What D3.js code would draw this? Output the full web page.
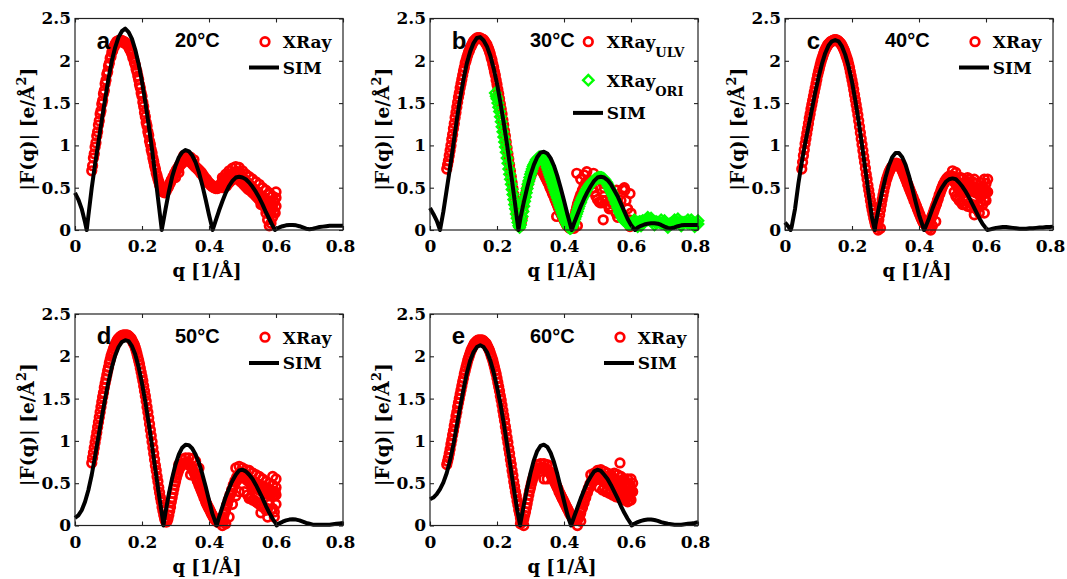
<!DOCTYPE html>
<html>
<head>
<meta charset="utf-8">
<script src="https://cdn.jsdelivr.net/npm/d3@7"></script>
<style>
  body { margin: 0; background: #fff; }
  svg { display: block; }
</style>
</head>
<body>
<svg id="fig" width="1067" height="579"></svg>
<script>
// ---- axis ticks ----
const qTicks = [0, 0.2, 0.4, 0.6, 0.8];
const fTicks = [0, 0.5, 1, 1.5, 2, 2.5];

// ---- simulated form factors |F(q)|, [q, F] ----
const sim20 = [[0,.44],[.01,.36],[.02,.25],[.03,.09],[.035,0],[.04,.17],[.05,.5],[.06,.78],[.07,1.04],[.08,1.30],[.09,1.55],[.10,1.79],[.11,2.0],[.12,2.16],[.13,2.28],[.14,2.35],[.15,2.38],[.16,2.34],[.17,2.26],[.18,2.13],[.19,1.96],[.20,1.75],[.21,1.51],[.22,1.24],[.23,.95],[.24,.63],[.25,.30],[.259,0],[.27,.24],[.28,.45],[.29,.63],[.30,.76],[.31,.86],[.32,.92],[.33,.945],[.34,.93],[.35,.88],[.36,.80],[.37,.68],[.38,.53],[.39,.36],[.40,.18],[.411,0],[.42,.11],[.43,.23],[.44,.34],[.45,.44],[.46,.52],[.47,.58],[.48,.62],[.49,.63],[.50,.62],[.51,.60],[.52,.56],[.53,.51],[.54,.45],[.55,.38],[.56,.30],[.57,.21],[.58,.13],[.59,.05],[.597,0],[.60,.01],[.61,.03],[.62,.045],[.63,.055],[.64,.06],[.65,.06],[.66,.055],[.67,.045],[.68,.03],[.69,.015],[.70,.01],[.71,.015],[.72,.025],[.73,.035],[.74,.04],[.75,.045],[.76,.05],[.77,.05],[.78,.05],[.79,.05],[.80,.05]];

const sim30 = [[0,.26],[.01,.19],[.02,.11],[.03,0],[.04,.22],[.05,.48],[.06,.74],[.07,1.02],[.08,1.30],[.09,1.56],[.10,1.78],[.11,1.97],[.12,2.11],[.13,2.21],[.14,2.27],[.15,2.28],[.16,2.24],[.17,2.17],[.18,2.06],[.19,1.91],[.20,1.73],[.21,1.51],[.22,1.27],[.23,1.01],[.24,.72],[.25,.43],[.26,.12],[.264,0],[.27,.14],[.28,.33],[.29,.50],[.30,.65],[.31,.77],[.32,.86],[.33,.915],[.34,.925],[.35,.905],[.36,.85],[.37,.76],[.38,.64],[.39,.50],[.40,.35],[.41,.19],[.423,0],[.43,.08],[.44,.18],[.45,.28],[.46,.37],[.47,.45],[.48,.52],[.49,.58],[.50,.62],[.51,.63],[.52,.62],[.53,.59],[.54,.54],[.55,.47],[.56,.40],[.57,.31],[.58,.22],[.59,.13],[.60,.06],[.612,0],[.62,.03],[.63,.05],[.64,.065],[.65,.075],[.66,.08],[.67,.08],[.68,.075],[.69,.06],[.70,.04],[.71,.025],[.72,.02],[.73,.03],[.74,.045],[.75,.055],[.76,.06],[.77,.06],[.78,.06],[.79,.06],[.80,.06]];

const sim40 = [[0,.09],[.01,.04],[.017,0],[.02,.04],[.03,.25],[.04,.55],[.05,.80],[.06,1.02],[.07,1.22],[.08,1.42],[.09,1.62],[.10,1.80],[.11,1.96],[.12,2.09],[.13,2.18],[.14,2.23],[.15,2.245],[.16,2.23],[.17,2.17],[.18,2.07],[.19,1.93],[.20,1.75],[.21,1.53],[.22,1.28],[.23,1.00],[.24,.71],[.25,.42],[.26,.14],[.268,0],[.27,.06],[.28,.26],[.29,.45],[.30,.62],[.31,.76],[.32,.86],[.33,.91],[.34,.91],[.35,.86],[.36,.77],[.37,.64],[.38,.49],[.39,.33],[.40,.18],[.41,.06],[.415,0],[.42,.04],[.43,.14],[.44,.25],[.45,.35],[.46,.44],[.47,.51],[.48,.57],[.49,.60],[.50,.61],[.51,.60],[.52,.56],[.53,.51],[.54,.45],[.55,.38],[.56,.30],[.57,.22],[.58,.14],[.59,.07],[.60,.02],[.604,0],[.61,.005],[.62,.015],[.63,.025],[.64,.03],[.65,.035],[.66,.035],[.67,.03],[.68,.025],[.69,.02],[.70,.015],[.71,.015],[.72,.015],[.73,.02],[.74,.02],[.75,.025],[.76,.03],[.77,.03],[.78,.035],[.79,.035],[.80,.04]];

const sim50 = [[0,.09],[.01,.12],[.02,.18],[.03,.28],[.04,.42],[.05,.60],[.06,.82],[.07,1.05],[.08,1.28],[.09,1.50],[.10,1.70],[.11,1.87],[.12,2.01],[.13,2.11],[.14,2.17],[.15,2.19],[.16,2.18],[.17,2.12],[.18,2.02],[.19,1.87],[.20,1.68],[.21,1.46],[.22,1.21],[.23,.94],[.24,.66],[.25,.38],[.26,.12],[.264,0],[.27,.15],[.28,.37],[.29,.56],[.30,.72],[.31,.84],[.32,.92],[.33,.955],[.34,.95],[.35,.91],[.36,.84],[.37,.74],[.38,.61],[.39,.46],[.40,.30],[.41,.14],[.423,0],[.43,.10],[.44,.22],[.45,.34],[.46,.44],[.47,.53],[.48,.60],[.49,.65],[.50,.66],[.51,.64],[.52,.60],[.53,.55],[.54,.48],[.55,.40],[.56,.32],[.57,.23],[.58,.15],[.59,.08],[.60,.02],[.602,0],[.61,.025],[.62,.045],[.63,.06],[.64,.07],[.65,.075],[.66,.07],[.67,.06],[.68,.045],[.69,.03],[.70,.02],[.71,.01],[.72,.01],[.73,.01],[.74,.01],[.75,.01],[.76,.01],[.77,.015],[.78,.02],[.79,.025],[.80,.03]];

const sim60 = [[0,.31],[.01,.33],[.02,.37],[.03,.43],[.04,.51],[.05,.62],[.06,.77],[.07,.96],[.08,1.18],[.09,1.40],[.10,1.61],[.11,1.80],[.12,1.95],[.13,2.05],[.14,2.11],[.15,2.13],[.16,2.11],[.17,2.05],[.18,1.95],[.19,1.81],[.20,1.64],[.21,1.44],[.22,1.21],[.23,.96],[.24,.70],[.25,.44],[.26,.19],[.269,0],[.27,.03],[.28,.24],[.29,.44],[.30,.62],[.31,.77],[.32,.88],[.33,.94],[.34,.955],[.35,.93],[.36,.86],[.37,.75],[.38,.61],[.39,.45],[.40,.29],[.41,.13],[.421,0],[.43,.10],[.44,.21],[.45,.32],[.46,.42],[.47,.51],[.48,.58],[.49,.64],[.50,.66],[.51,.645],[.52,.60],[.53,.55],[.54,.48],[.55,.40],[.56,.32],[.57,.23],[.58,.15],[.59,.08],[.60,.02],[.602,0],[.61,.02],[.62,.04],[.63,.055],[.64,.065],[.65,.07],[.66,.07],[.67,.065],[.68,.055],[.69,.04],[.70,.03],[.71,.02],[.72,.015],[.73,.01],[.74,.01],[.75,.01],[.76,.015],[.77,.02],[.78,.025],[.79,.03],[.80,.04]];

// ---- measured X-ray form factors, [q, F]; two interleaved scans per temperature ----
const xray20 = [[.050,.70],[.055,.85],[.060,.98],[.065,1.11],[.070,1.24],[.075,1.37],[.080,1.49],[.085,1.61],[.090,1.73],[.095,1.84],[.100,1.94],[.105,2.03],[.110,2.10],[.115,2.16],[.120,2.20],[.125,2.23],[.130,2.24],[.135,2.24],[.140,2.24],[.145,2.23],[.150,2.22],[.155,2.20],[.160,2.17],[.165,2.13],[.170,2.08],[.175,2.02],[.180,1.95],[.185,1.87],[.190,1.78],[.195,1.68],[.200,1.58],[.205,1.46],[.210,1.34],[.215,1.23],[.220,1.12],[.225,1.01],[.230,.91],[.235,.81],[.240,.72],[.245,.64],[.250,.57],[.255,.51],[.260,.47],[.265,.45],[.270,.46],[.275,.49],[.280,.52],[.285,.56],[.290,.60],[.295,.64],[.300,.68],[.305,.71],[.310,.74],[.315,.77],[.320,.79],[.325,.81],[.330,.82],[.335,.82],[.340,.82],[.345,.80],[.350,.78],[.355,.76],[.360,.74],[.365,.72],[.370,.70],[.375,.67],[.380,.65],[.385,.62],[.390,.60],[.395,.57],[.400,.55],[.405,.53],[.410,.51],[.415,.50],[.420,.49],[.425,.49],[.430,.50],[.435,.52],[.440,.55],[.445,.58],[.450,.60],[.455,.62],[.460,.64],[.465,.66],[.470,.67],[.475,.68],[.480,.69],[.485,.69],[.490,.68],[.495,.66],[.500,.63],[.505,.60],[.510,.58],[.515,.56],[.520,.54],[.525,.52],[.530,.50],[.535,.48],[.540,.46],[.545,.44],[.550,.42],[.555,.40],[.560,.38],[.565,.36],[.570,.34],[.575,.33],[.580,.32],[.585,.31],[.590,.30],[.595,.33],[.600,.38],
  [.325,.88],[.335,.88],[.345,.86],[.355,.83],[.31,.68],[.30,.62],[.47,.73],[.48,.75],[.49,.74],[.50,.70],[.46,.70],[.44,.50],[.45,.54],[.565,.28],[.57,.20],[.575,.12],[.58,.05],[.585,.08],[.59,.15],[.595,.22],[.60,.45],[.60,.28],[.59,.40],[.585,.20],[.58,.42],[.555,.30],
  [.51,.66],[.52,.63],[.53,.60],[.54,.57],[.55,.54],[.56,.50],[.57,.47],[.58,.44],[.45,.66],[.44,.62]];
const xray20r = [[.0525,.76],[.0575,.90],[.0625,1.03],[.0675,1.16],[.0725,1.29],[.0775,1.41],[.0825,1.53],[.0875,1.65],[.0925,1.77],[.0975,1.87],[.1025,1.97],[.1075,2.05],[.1125,2.12],[.1175,2.17],[.1225,2.21],[.1275,2.22],[.1325,2.23],[.1375,2.23],[.1425,2.22],[.1475,2.21],[.1525,2.20],[.1575,2.18],[.1625,2.14],[.1675,2.10],[.1725,2.04],[.1775,1.98],[.1825,1.90],[.1875,1.82],[.1925,1.72],[.1975,1.62],[.2025,1.51],[.2075,1.39],[.2125,1.27],[.2175,1.16],[.2225,1.05],[.2275,.95],[.2325,.85],[.2375,.76],[.2425,.67],[.2475,.60],[.2525,.53],[.2575,.48],[.2625,.45],[.2675,.44],[.2725,.46],[.2775,.50],[.2825,.55],[.2875,.59],[.2925,.63],[.2975,.67],[.3025,.71],[.3075,.74],[.3125,.77],[.3175,.80],[.3225,.82],[.3275,.84],[.3325,.85],[.3375,.84],[.3425,.83],[.3475,.81],[.3525,.79],[.3575,.76],[.3625,.74],[.3675,.72],[.3725,.70],[.3775,.68],[.3825,.65],[.3875,.62],[.3925,.60],[.3975,.57],[.4025,.55],[.4075,.53],[.4125,.52],[.4175,.51],[.4225,.51],[.4275,.52],[.4325,.53],[.4375,.56],[.4425,.59],[.4475,.62],[.4525,.52],[.4575,.55],[.4625,.57],[.4675,.59],[.4725,.60],[.4775,.61],[.4825,.61],[.4875,.60],[.4925,.58],[.4975,.56],[.5025,.54],[.5075,.52],[.5125,.50],[.5175,.48],[.5225,.47],[.5275,.45],[.5325,.43],[.5375,.41],[.5425,.39],[.5475,.37],[.5525,.35],[.5575,.33],[.5625,.30],[.5675,.27],[.5725,.25],[.5775,.22],[.5825,.18],[.5875,.25],[.5925,.35],[.5975,.20]];

const xrayUlv30 = [[.050,.72],[.055,.82],[.060,.94],[.065,1.07],[.070,1.20],[.075,1.33],[.080,1.45],[.085,1.57],[.090,1.68],[.095,1.78],[.100,1.88],[.105,1.97],[.110,2.04],[.115,2.10],[.120,2.15],[.125,2.19],[.130,2.23],[.135,2.25],[.140,2.27],[.145,2.27],[.150,2.27],[.155,2.26],[.160,2.25],[.165,2.22],[.170,2.19],[.175,2.14],[.180,2.08],[.185,2.01],[.190,1.92],[.195,1.83],[.200,1.72],[.205,1.61],[.210,1.49],[.215,1.37],[.220,1.24],[.225,1.11],[.230,.97],[.235,.84],[.240,.70],[.245,.56],[.250,.42],[.255,.29],[.260,.16],[.265,.06],[.270,.05],[.275,.14],[.280,.32],[.285,.41],[.290,.50],[.295,.57],[.300,.63],[.305,.68],[.310,.71],[.315,.73],[.320,.74],[.325,.74],[.330,.73],[.335,.70],[.340,.66],[.345,.62],[.350,.58],[.355,.54],[.360,.49],[.365,.44],[.370,.40],[.375,.35],[.380,.30],[.385,.25],[.390,.20],[.395,.16],[.400,.12],[.405,.08],[.410,.05],[.415,.03],[.420,.02],[.425,.05],[.430,.12],[.435,.22],[.440,.30],[.445,.36],[.450,.42],[.455,.47],[.460,.52],[.465,.56],[.470,.58],[.475,.57],[.480,.55],[.485,.50],[.490,.45],[.495,.40],[.500,.36],[.505,.33],[.510,.32],[.515,.35],[.520,.40],[.525,.35],[.530,.30],[.535,.25],[.540,.33],[.545,.40],[.550,.30],[.555,.20],[.560,.15],[.565,.22],[.570,.35],[.575,.48],[.580,.50],[.585,.35],[.590,.25],[.595,.12],[.600,.20],
  [.438,.67],[.468,.69],[.488,.67],[.517,.55],[.557,.47],[.582,.47],[.597,.43],[.537,.27],[.517,.12],[.597,.04],[.408,.08],[.393,.22],[.378,.16],[.43,.02],[.44,.05],[.45,.60],[.46,.65],[.50,.60],[.52,.50],[.54,.45]];
const xrayUlv30r = [[.0525,.77],[.0575,.88],[.0625,1.00],[.0675,1.13],[.0725,1.26],[.0775,1.39],[.0825,1.51],[.0875,1.62],[.0925,1.73],[.0975,1.83],[.1025,1.92],[.1075,2.00],[.1125,2.07],[.1175,2.12],[.1225,2.17],[.1275,2.21],[.1325,2.24],[.1375,2.26],[.1425,2.27],[.1475,2.27],[.1525,2.26],[.1575,2.25],[.1625,2.23],[.1675,2.20],[.1725,2.16],[.1775,2.11],[.1825,2.04],[.1875,1.96],[.1925,1.87],[.1975,1.77],[.2025,1.66],[.2075,1.55],[.2125,1.43],[.2175,1.30],[.2225,1.17],[.2275,1.04],[.2325,.90],[.2375,.77],[.2425,.63],[.2475,.49],[.2525,.35],[.2575,.22],[.2625,.11],[.2675,.04],[.2725,.09],[.2775,.23],[.2825,.37],[.2875,.46],[.2925,.54],[.2975,.60],[.3025,.66],[.3075,.70],[.3125,.72],[.3175,.74],[.3225,.74],[.3275,.74],[.3325,.72],[.3375,.68],[.3425,.64],[.3475,.60],[.3525,.56],[.3575,.51],[.3625,.47],[.3675,.42],[.3725,.37],[.3775,.32],[.3825,.27],[.3875,.22],[.3925,.18],[.3975,.14],[.4025,.10],[.4075,.06],[.4125,.04],[.4175,.02],[.4225,.03],[.4275,.08],[.4325,.17],[.4375,.26],[.4425,.33],[.4475,.39]];

const xrayOri30 = [[.195,1.62],[.200,1.55],[.205,1.45],[.210,1.34],[.215,1.22],[.220,1.10],[.225,.98],[.230,.85],[.235,.72],[.240,.60],[.245,.48],[.250,.36],[.255,.25],[.260,.14],[.265,.05],[.270,.06],[.275,.16],[.280,.28],[.285,.39],[.290,.49],[.295,.58],[.300,.66],[.305,.72],[.310,.77],[.315,.81],[.320,.84],[.325,.86],[.330,.86],[.335,.85],[.340,.83],[.345,.79],[.350,.74],[.355,.68],[.360,.62],[.365,.56],[.370,.50],[.375,.44],[.380,.38],[.385,.32],[.390,.26],[.395,.20],[.400,.15],[.405,.10],[.410,.06],[.415,.03],[.420,.02],[.425,.05],[.430,.10],[.435,.16],[.440,.22],[.445,.28],[.450,.33],[.455,.38],[.460,.42],[.465,.46],[.470,.49],[.475,.52],[.480,.55],[.485,.57],[.490,.59],[.495,.60],[.500,.61],[.505,.62],[.510,.62],[.515,.61],[.520,.60],[.525,.57],[.530,.54],[.535,.50],[.540,.46],[.545,.42],[.550,.37],[.555,.32],[.560,.27],[.565,.22],[.570,.18],[.575,.14],[.580,.11],[.585,.09],[.590,.08],[.595,.07],[.600,.07],[.605,.08],[.610,.08],[.615,.09],[.620,.09],[.625,.10],[.630,.10],[.635,.11],[.640,.11],[.645,.12],[.650,.12],[.655,.12],[.660,.11],[.665,.11],[.670,.10],[.675,.10],[.680,.09],[.685,.09],[.690,.08],[.695,.08],[.700,.07],[.705,.07],[.710,.07],[.715,.07],[.720,.08],[.725,.08],[.730,.08],[.735,.08],[.740,.09],[.745,.09],[.750,.09],[.755,.09],[.760,.09],[.765,.09],[.770,.08],[.775,.08],[.780,.08],[.785,.08],[.790,.08],[.795,.08],[.800,.07],
  [.61,.12],[.63,.05],[.65,.15],[.67,.06],[.69,.12],[.71,.03],[.73,.12],[.75,.05],[.77,.12],[.79,.04],[.80,.11],[.62,.04],[.66,.14],[.70,.11],[.74,.13],[.78,.12]];
const xrayOri30r = [[.1975,1.58],[.2025,1.50],[.2075,1.40],[.2125,1.28],[.2175,1.16],[.2225,1.04],[.2275,.92],[.2325,.79],[.2375,.66],[.2425,.54],[.2475,.42],[.2525,.30],[.2575,.19],[.2625,.09],[.2675,.03],[.2725,.11],[.2775,.22],[.2825,.34],[.2875,.44],[.2925,.54],[.2975,.62],[.3025,.69],[.3075,.75],[.3125,.79],[.3175,.83],[.3225,.85],[.3275,.86],[.3325,.86],[.3375,.84],[.3425,.81],[.3475,.77],[.3525,.71],[.3575,.65],[.3625,.59],[.3675,.53],[.3725,.47],[.3775,.41],[.3825,.35],[.3875,.29],[.3925,.23],[.3975,.17],[.4025,.12],[.4075,.08],[.4125,.04],[.4175,.02],[.4225,.03],[.4275,.07],[.4325,.13],[.4375,.19],[.4425,.25],[.4475,.31],[.4525,.36],[.4575,.40],[.4625,.44],[.4675,.48],[.4725,.51],[.4775,.54],[.4825,.56],[.4875,.58],[.4925,.60],[.4975,.61],[.5025,.62],[.5075,.62],[.5125,.62],[.5175,.61],[.5225,.59],[.5275,.56],[.5325,.52],[.5375,.48],[.5425,.44],[.5475,.40],[.5525,.35],[.5575,.30],[.5625,.25],[.5675,.20],[.5725,.16],[.5775,.12],[.5825,.10],[.5875,.08],[.5925,.07],[.5975,.07]];

const xray40 = [[.050,.72],[.055,.88],[.060,1.02],[.065,1.14],[.070,1.26],[.075,1.37],[.080,1.48],[.085,1.58],[.090,1.68],[.095,1.78],[.100,1.87],[.105,1.95],[.110,2.02],[.115,2.08],[.120,2.13],[.125,2.17],[.130,2.20],[.135,2.22],[.140,2.23],[.145,2.24],[.150,2.24],[.155,2.24],[.160,2.23],[.165,2.21],[.170,2.18],[.175,2.14],[.180,2.09],[.185,2.03],[.190,1.96],[.195,1.87],[.200,1.77],[.205,1.66],[.210,1.54],[.215,1.42],[.220,1.29],[.225,1.15],[.230,1.01],[.235,.87],[.240,.73],[.245,.60],[.250,.47],[.255,.35],[.260,.24],[.265,.14],[.270,.06],[.275,.04],[.280,.12],[.285,.24],[.290,.36],[.295,.46],[.300,.55],[.305,.62],[.310,.68],[.315,.72],[.320,.75],[.325,.77],[.330,.78],[.335,.78],[.340,.77],[.345,.74],[.350,.70],[.355,.65],[.360,.60],[.365,.55],[.370,.50],[.375,.45],[.380,.40],[.385,.35],[.390,.30],[.395,.25],[.400,.20],[.405,.15],[.410,.11],[.415,.08],[.420,.06],[.425,.06],[.430,.08],[.435,.12],[.440,.17],[.445,.23],[.450,.29],[.455,.35],[.460,.41],[.465,.46],[.470,.51],[.475,.55],[.480,.58],[.485,.60],[.490,.61],[.495,.61],[.500,.60],[.505,.57],[.510,.54],[.515,.50],[.520,.47],[.525,.45],[.530,.44],[.535,.44],[.540,.45],[.545,.46],[.550,.47],[.555,.47],[.560,.46],[.565,.45],[.570,.44],[.575,.43],[.580,.42],[.585,.42],[.590,.42],[.595,.43],[.600,.44],
  [.50,.70],[.51,.68],[.52,.62],[.53,.60],[.54,.58],[.55,.60],[.56,.57],[.57,.55],[.58,.50],[.59,.50],[.60,.55],[.60,.35],[.59,.30],[.58,.28],[.57,.25],[.56,.30],[.55,.32],[.53,.30],[.52,.35],[.51,.40],[.595,.20],[.58,.20],[.565,.18],[.605,.45],[.605,.60],[.43,.02],[.44,.05],[.45,.10],[.435,.0],[.278,.0],[.285,.02],
  [.505,.45],[.515,.38],[.525,.33],[.535,.30],[.545,.28],[.555,.27],[.565,.28],[.575,.30],[.585,.33],[.595,.36],[.525,.62],[.545,.62],[.565,.60],[.585,.56],[.595,.60]];
const xray40r = [[.0525,.80],[.0575,.95],[.0625,1.08],[.0675,1.20],[.0725,1.32],[.0775,1.43],[.0825,1.53],[.0875,1.63],[.0925,1.73],[.0975,1.83],[.1025,1.91],[.1075,1.99],[.1125,2.05],[.1175,2.11],[.1225,2.15],[.1275,2.19],[.1325,2.21],[.1375,2.23],[.1425,2.24],[.1475,2.25],[.1525,2.25],[.1575,2.24],[.1625,2.22],[.1675,2.20],[.1725,2.16],[.1775,2.12],[.1825,2.06],[.1875,2.00],[.1925,1.92],[.1975,1.82],[.2025,1.72],[.2075,1.60],[.2125,1.48],[.2175,1.36],[.2225,1.22],[.2275,1.08],[.2325,.94],[.2375,.80],[.2425,.66],[.2475,.53],[.2525,.41],[.2575,.29],[.2625,.19],[.2675,.10],[.2725,.04],[.2775,.07],[.2825,.18],[.2875,.30],[.2925,.41],[.2975,.51],[.3025,.59],[.3075,.65],[.3125,.70],[.3175,.74],[.3225,.76],[.3275,.78],[.3325,.79],[.3375,.78],[.3425,.76],[.3475,.72],[.3525,.68],[.3575,.63],[.3625,.58],[.3675,.53],[.3725,.48],[.3775,.43],[.3825,.38],[.3875,.33],[.3925,.28],[.3975,.23],[.4025,.18],[.4075,.13],[.4125,.09],[.4175,.07],[.4225,.05],[.4275,.07],[.4325,.10],[.4375,.15],[.4425,.20],[.4475,.26],[.4525,.31],[.4575,.37],[.4625,.43],[.4675,.49],[.4725,.54],[.4775,.58],[.4825,.61],[.4875,.63],[.4925,.64],[.4975,.64],[.5025,.63],[.5075,.61],[.5125,.58],[.5175,.56],[.5225,.54],[.5275,.52],[.5325,.51],[.5375,.50],[.5425,.50],[.5475,.51],[.5525,.52],[.5575,.52],[.5625,.51],[.5675,.50],[.5725,.48],[.5775,.47],[.5825,.46],[.5875,.46],[.5925,.47],[.5975,.48]];

const xray50 = [[.050,.74],[.055,.86],[.060,.98],[.065,1.10],[.070,1.22],[.075,1.34],[.080,1.46],[.085,1.57],[.090,1.68],[.095,1.78],[.100,1.87],[.105,1.96],[.110,2.03],[.115,2.09],[.120,2.14],[.125,2.18],[.130,2.21],[.135,2.23],[.140,2.24],[.145,2.25],[.150,2.25],[.155,2.25],[.160,2.24],[.165,2.22],[.170,2.19],[.175,2.15],[.180,2.10],[.185,2.03],[.190,1.95],[.195,1.86],[.200,1.76],[.205,1.65],[.210,1.53],[.215,1.40],[.220,1.27],[.225,1.13],[.230,.99],[.235,.85],[.240,.71],[.245,.58],[.250,.45],[.255,.33],[.260,.22],[.265,.12],[.270,.05],[.275,.05],[.280,.12],[.285,.22],[.290,.33],[.295,.43],[.300,.52],[.305,.60],[.310,.66],[.315,.70],[.320,.72],[.325,.73],[.330,.73],[.335,.73],[.340,.72],[.345,.70],[.350,.67],[.355,.63],[.360,.58],[.365,.53],[.370,.48],[.375,.43],[.380,.38],[.385,.33],[.390,.28],[.395,.24],[.400,.20],[.405,.16],[.410,.12],[.415,.09],[.420,.06],[.425,.04],[.430,.04],[.435,.05],[.440,.08],[.445,.13],[.450,.19],[.455,.25],[.460,.31],[.465,.37],[.470,.42],[.475,.47],[.480,.51],[.485,.54],[.490,.56],[.495,.57],[.500,.57],[.505,.56],[.510,.55],[.515,.53],[.520,.51],[.525,.49],[.530,.47],[.535,.45],[.540,.44],[.545,.43],[.550,.42],[.555,.41],[.560,.40],[.565,.39],[.570,.38],[.575,.37],[.580,.36],[.585,.36],[.590,.35],[.595,.35],[.600,.36],
  [.32,.78],[.33,.80],[.34,.80],[.35,.79],[.36,.76],[.31,.72],[.37,.68],[.345,.60],[.48,.68],[.49,.70],[.50,.68],[.51,.66],[.52,.65],[.53,.62],[.54,.60],[.55,.58],[.56,.55],[.57,.52],[.58,.50],[.59,.48],[.60,.45],[.60,.25],[.59,.20],[.58,.25],[.57,.18],[.56,.22],[.55,.25],[.54,.28],[.53,.30],[.52,.32],[.60,.55],[.59,.58],[.595,.10],[.575,.10],[.555,.15],[.44,.0],[.45,.02],[.46,.10],[.445,.05],
  [.505,.40],[.515,.36],[.525,.33],[.535,.30],[.545,.27],[.555,.24],[.565,.22],[.575,.20],[.585,.18],[.595,.16],[.47,.25],[.48,.35],[.49,.40]];
const xray50r = [[.0525,.80],[.0575,.92],[.0625,1.04],[.0675,1.16],[.0725,1.28],[.0775,1.40],[.0825,1.52],[.0875,1.63],[.0925,1.73],[.0975,1.83],[.1025,1.92],[.1075,2.00],[.1125,2.06],[.1175,2.12],[.1225,2.16],[.1275,2.20],[.1325,2.22],[.1375,2.24],[.1425,2.25],[.1475,2.25],[.1525,2.25],[.1575,2.25],[.1625,2.23],[.1675,2.21],[.1725,2.17],[.1775,2.13],[.1825,2.07],[.1875,1.99],[.1925,1.91],[.1975,1.81],[.2025,1.71],[.2075,1.59],[.2125,1.47],[.2175,1.34],[.2225,1.20],[.2275,1.06],[.2325,.92],[.2375,.78],[.2425,.65],[.2475,.52],[.2525,.39],[.2575,.28],[.2625,.17],[.2675,.08],[.2725,.04],[.2775,.08],[.2825,.17],[.2875,.28],[.2925,.38],[.2975,.48],[.3025,.56],[.3075,.63],[.3125,.68],[.3175,.71],[.3225,.73],[.3275,.74],[.3325,.74],[.3375,.73],[.3425,.71],[.3475,.69],[.3525,.65],[.3575,.61],[.3625,.56],[.3675,.51],[.3725,.46],[.3775,.41],[.3825,.36],[.3875,.31],[.3925,.26],[.3975,.22],[.4025,.18],[.4075,.14],[.4125,.10],[.4175,.07],[.4225,.05],[.4275,.04],[.4325,.04],[.4375,.06],[.4425,.10],[.4475,.16],[.4525,.24],[.4575,.30],[.4625,.36],[.4675,.42],[.4725,.48],[.4775,.53],[.4825,.57],[.4875,.60],[.4925,.62],[.4975,.62],[.5025,.61],[.5075,.60],[.5125,.58],[.5175,.56],[.5225,.54],[.5275,.53],[.5325,.52],[.5375,.51],[.5425,.50],[.5475,.49],[.5525,.48],[.5575,.47],[.5625,.46],[.5675,.45],[.5725,.44],[.5775,.43],[.5825,.42],[.5875,.41],[.5925,.40],[.5975,.40]];

const xray60 = [[.050,.72],[.055,.80],[.060,.90],[.065,1.01],[.070,1.12],[.075,1.23],[.080,1.34],[.085,1.45],[.090,1.55],[.095,1.65],[.100,1.74],[.105,1.83],[.110,1.91],[.115,1.98],[.120,2.04],[.125,2.09],[.130,2.13],[.135,2.16],[.140,2.18],[.145,2.19],[.150,2.19],[.155,2.19],[.160,2.18],[.165,2.16],[.170,2.13],[.175,2.09],[.180,2.04],[.185,1.98],[.190,1.91],[.195,1.83],[.200,1.74],[.205,1.64],[.210,1.53],[.215,1.42],[.220,1.30],[.225,1.17],[.230,1.04],[.235,.91],[.240,.78],[.245,.65],[.250,.52],[.255,.40],[.260,.29],[.265,.18],[.270,.09],[.275,.04],[.280,.08],[.285,.16],[.290,.26],[.295,.36],[.300,.45],[.305,.53],[.310,.59],[.315,.63],[.320,.66],[.325,.67],[.330,.68],[.335,.68],[.340,.68],[.345,.67],[.350,.66],[.355,.64],[.360,.61],[.365,.57],[.370,.53],[.375,.49],[.380,.45],[.385,.40],[.390,.36],[.395,.32],[.400,.28],[.405,.24],[.410,.20],[.415,.16],[.420,.12],[.425,.09],[.430,.07],[.435,.06],[.440,.07],[.445,.10],[.450,.15],[.455,.21],[.460,.27],[.465,.33],[.470,.39],[.475,.44],[.480,.48],[.485,.51],[.490,.53],[.495,.54],[.500,.55],[.505,.55],[.510,.55],[.515,.54],[.520,.53],[.525,.52],[.530,.51],[.535,.50],[.540,.49],[.545,.48],[.550,.47],[.555,.46],[.560,.45],[.565,.44],[.570,.43],[.575,.42],[.580,.41],[.585,.40],[.590,.40],[.595,.40],[.600,.40],
  [.567,.74],[.50,.65],[.51,.66],[.52,.64],[.53,.62],[.54,.60],[.55,.62],[.56,.60],[.57,.58],[.58,.55],[.59,.55],[.60,.55],[.60,.30],[.59,.28],[.58,.30],[.57,.32],[.56,.35],[.55,.38],[.54,.40],[.53,.42],[.52,.45],[.48,.60],[.49,.62],[.32,.72],[.33,.73],[.34,.73],[.35,.72],[.36,.70],[.34,.55],[.35,.55],[.44,.0],[.45,.05],[.28,.0],[.27,.02],
  [.505,.45],[.515,.42],[.525,.40],[.535,.38],[.545,.36],[.555,.34],[.565,.33],[.575,.32],[.585,.31],[.595,.30],[.605,.40],[.605,.50]];
const xray60r = [[.0525,.76],[.0575,.85],[.0625,.96],[.0675,1.07],[.0725,1.18],[.0775,1.29],[.0825,1.40],[.0875,1.50],[.0925,1.60],[.0975,1.70],[.1025,1.79],[.1075,1.87],[.1125,1.95],[.1175,2.01],[.1225,2.07],[.1275,2.11],[.1325,2.15],[.1375,2.17],[.1425,2.19],[.1475,2.19],[.1525,2.19],[.1575,2.19],[.1625,2.17],[.1675,2.15],[.1725,2.11],[.1775,2.07],[.1825,2.01],[.1875,1.95],[.1925,1.87],[.1975,1.79],[.2025,1.69],[.2075,1.59],[.2125,1.48],[.2175,1.36],[.2225,1.24],[.2275,1.11],[.2325,.98],[.2375,.85],[.2425,.72],[.2475,.59],[.2525,.46],[.2575,.35],[.2625,.24],[.2675,.14],[.2725,.06],[.2775,.05],[.2825,.12],[.2875,.21],[.2925,.31],[.2975,.41],[.3025,.49],[.3075,.56],[.3125,.61],[.3175,.65],[.3225,.67],[.3275,.68],[.3325,.68],[.3375,.68],[.3425,.68],[.3475,.67],[.3525,.65],[.3575,.63],[.3625,.59],[.3675,.55],[.3725,.51],[.3775,.47],[.3825,.43],[.3875,.38],[.3925,.34],[.3975,.30],[.4025,.26],[.4075,.22],[.4125,.18],[.4175,.14],[.4225,.11],[.4275,.08],[.4325,.06],[.4375,.06],[.4425,.08],[.4475,.12],[.4525,.20],[.4575,.26],[.4625,.32],[.4675,.38],[.4725,.44],[.4775,.49],[.4825,.53],[.4875,.56],[.4925,.58],[.4975,.60],[.5025,.60],[.5075,.60],[.5125,.60],[.5175,.59],[.5225,.58],[.5275,.57],[.5325,.56],[.5375,.55],[.5425,.55],[.5475,.54],[.5525,.54],[.5575,.53],[.5625,.53],[.5675,.52],[.5725,.52],[.5775,.51],[.5825,.50],[.5875,.50],[.5925,.49],[.5975,.48]];

// ---- panel layout ----
const colLeft = [75, 430, 785];
const rowTop = [18.5, 314];
const W = 268, H = 211.5;

const panels = [
  { tag: "a", temp: "20°C", col: 0, row: 0, sim: sim20, xray: [xray20, xray20r] },
  { tag: "b", temp: "30°C", col: 1, row: 0, sim: sim30, xray: [xrayUlv30, xrayUlv30r], ori: [xrayOri30, xrayOri30r] },
  { tag: "c", temp: "40°C", col: 2, row: 0, sim: sim40, xray: [xray40, xray40r] },
  { tag: "d", temp: "50°C", col: 0, row: 1, sim: sim50, xray: [xray50, xray50r] },
  { tag: "e", temp: "60°C", col: 1, row: 1, sim: sim60, xray: [xray60, xray60r] }
];

const SERIF = "'DejaVu Serif', 'Liberation Serif', serif";
const SANS = "'Liberation Sans', Arial, sans-serif";
const RED = "#ff0000", GREEN = "#00ff00";
const CIRCLE_R = 4.3, CIRCLE_W = 2.7;

const svg = d3.select("#fig");
const fmt = d => String(d);
const diamond = d3.symbol(d3.symbolSquare, 54);

function drawCircle(g, cx, cy) {
  g.append("circle").attr("cx", cx).attr("cy", cy).attr("r", CIRCLE_R)
    .attr("fill", "none").attr("stroke", RED).attr("stroke-width", CIRCLE_W);
}
function drawDiamond(g, cx, cy) {
  g.append("path").attr("d", diamond())
    .attr("transform", `translate(${cx},${cy}) rotate(45)`)
    .attr("fill", "none").attr("stroke", GREEN).attr("stroke-width", 2.4);
}

panels.forEach(p => {
  const left = colLeft[p.col], top = rowTop[p.row];
  const x = d3.scaleLinear().domain([0, 0.8]).range([left, left + W]);
  const y = d3.scaleLinear().domain([0, 2.5]).range([top + H, top]);
  const g = svg.append("g").attr("class", "panel-" + p.tag);

  // measured points (open circles)
  g.append("g").selectAll("circle").data(p.xray.flat()).join("circle")
    .attr("cx", d => x(d[0])).attr("cy", d => y(d[1])).attr("r", CIRCLE_R)
    .attr("fill", "none").attr("stroke", RED).attr("stroke-width", CIRCLE_W);

  // oriented-sample points (open diamonds)
  if (p.ori) {
    g.append("g").selectAll("path").data(p.ori.flat()).join("path")
      .attr("d", diamond())
      .attr("transform", d => `translate(${x(d[0])},${y(d[1])}) rotate(45)`)
      .attr("fill", "none").attr("stroke", GREEN).attr("stroke-width", 2.4);
  }

  // simulation curve
  g.append("path").datum(p.sim)
    .attr("d", d3.line().x(d => x(d[0])).y(d => y(d[1])))
    .attr("fill", "none").attr("stroke", "#000").attr("stroke-width", 4)
    .attr("stroke-linejoin", "round");

  // axes with inward ticks on all four sides
  const styleAxis = a => {
    a.select(".domain").remove();
    a.selectAll("line").attr("stroke", "#222").attr("stroke-width", 1.1);
    a.attr("font-family", SERIF).attr("font-size", 17).attr("font-weight", "bold");
    a.selectAll("text").attr("fill", "#000");
  };
  const xb = g.append("g").attr("transform", `translate(0,${top + H})`)
    .call(d3.axisBottom(x).tickValues(qTicks).tickSize(-4).tickPadding(10).tickFormat(fmt))
    .call(styleAxis);
  xb.selectAll(".tick text").filter(d => d === 0.8).attr("dx", -3);
  g.append("g").attr("transform", `translate(0,${top})`)
    .call(d3.axisTop(x).tickValues(qTicks).tickSize(-4).tickFormat(""))
    .call(styleAxis);
  g.append("g").attr("transform", `translate(${left},0)`)
    .call(d3.axisLeft(y).tickValues(fTicks).tickSize(-4).tickPadding(4).tickFormat(fmt))
    .call(styleAxis);
  g.append("g").attr("transform", `translate(${left + W},0)`)
    .call(d3.axisRight(y).tickValues(fTicks).tickSize(-4).tickFormat(""))
    .call(styleAxis);

  g.append("rect").attr("x", left).attr("y", top).attr("width", W).attr("height", H)
    .attr("fill", "none").attr("stroke", "#222").attr("stroke-width", 1.2);

  // axis titles
  g.append("text").attr("x", left + W / 2 - 2).attr("y", top + H + 47)
    .attr("text-anchor", "middle").attr("font-family", SERIF).attr("font-size", 18)
    .attr("font-weight", "bold").text("q [1/Å]");
  const yt = g.append("text")
    .attr("transform", `translate(${left - 41},${top + H / 2 + 5}) rotate(-90)`)
    .attr("text-anchor", "middle").attr("font-family", SERIF).attr("font-size", 18.5)
    .attr("font-weight", "bold");
  yt.append("tspan").text("|F(q)| [e/Å");
  yt.append("tspan").attr("font-size", 13).attr("dy", -8).text("2");
  yt.append("tspan").attr("dy", 8).text("]");

  // panel tag and temperature
  g.append("text").attr("x", left + 21.7).attr("y", top + 30)
    .attr("font-family", SANS).attr("font-size", 24).attr("font-weight", "bold").text(p.tag);
  g.append("text").attr("x", left + 100).attr("y", top + 28.5)
    .attr("font-family", SANS).attr("font-size", 20).attr("font-weight", "bold").text(p.temp);

  // legend
  const lg = g.append("g").attr("font-family", SERIF).attr("font-weight", "bold").attr("font-size", 17);
  const label = (tx, ty, main, sub) => {
    const t = lg.append("text").attr("x", tx).attr("y", ty + 6.3);
    t.append("tspan").text(main);
    if (sub) t.append("tspan").attr("font-size", 13).attr("dy", 9).text(sub);
  };
  if (p.ori) {
    const mx = left + 158.3, tx = left + 176.7;
    drawCircle(lg, mx, top + 23.2); label(tx, top + 23.2, "XRay", "ULV");
    drawDiamond(lg, mx, top + 61.7); label(tx, top + 61.7, "XRay", "ORI");
    lg.append("line").attr("x1", left + 143).attr("x2", left + 173)
      .attr("y1", top + 94.4).attr("y2", top + 94.4).attr("stroke", "#000").attr("stroke-width", 4);
    label(tx, top + 94.4, "SIM");
  } else {
    const mx = left + 190, tx = left + 207.7;
    drawCircle(lg, mx, top + 23.2); label(tx, top + 23.2, "XRay");
    lg.append("line").attr("x1", left + 174).attr("x2", left + 204)
      .attr("y1", top + 49).attr("y2", top + 49).attr("stroke", "#000").attr("stroke-width", 4);
    label(tx, top + 49, "SIM");
  }
});
</script>
</body>
</html>
